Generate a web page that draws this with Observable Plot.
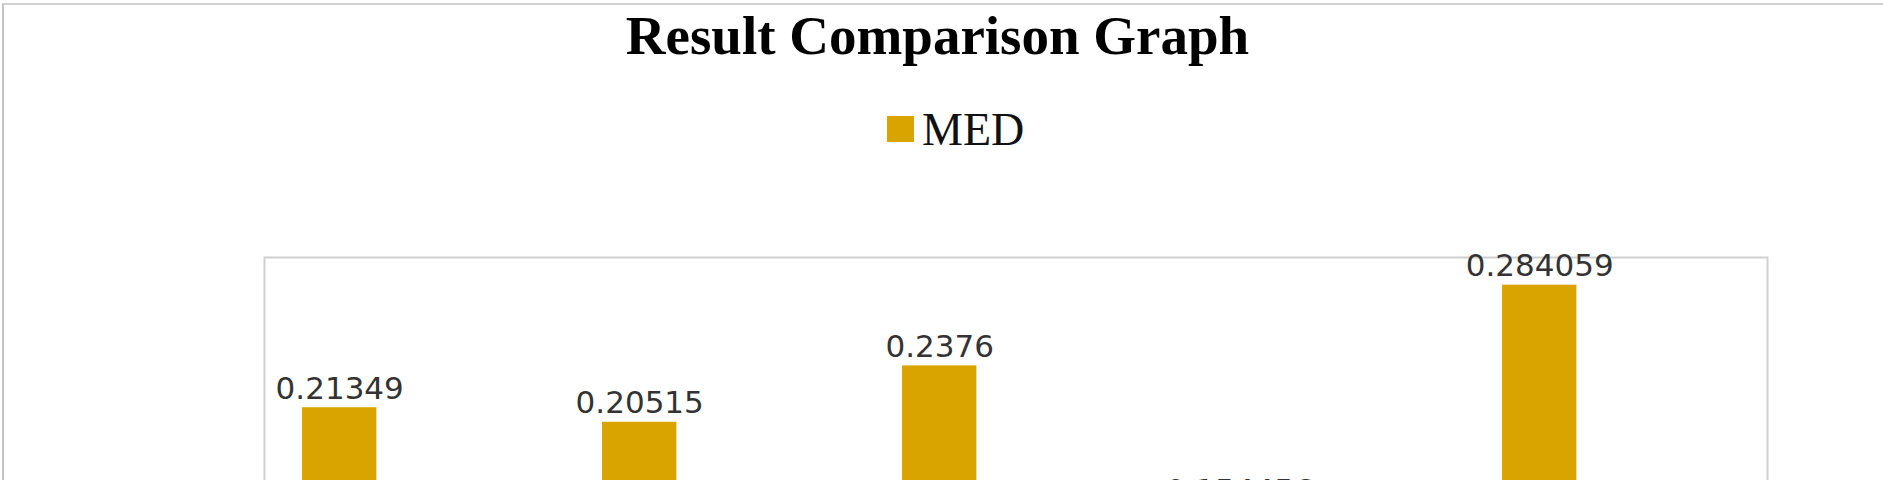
<!DOCTYPE html>
<html>
<head>
<meta charset="utf-8">
<script src="https://cdn.jsdelivr.net/npm/d3@7"></script>
<script src="https://cdn.jsdelivr.net/npm/@observablehq/plot@0.6"></script>
<style>
  html, body { margin: 0; padding: 0; background: #fff; overflow: hidden; }
  #page { position: relative; width: 1883px; height: 480px; overflow: hidden; background: #fff; }
  #border { position: absolute; left: 2px; top: 3px; width: 1900px; height: 600px;
            border-left: 2px solid #c4c4c4; border-top: 2px solid #d0d0d0; box-sizing: border-box; }
  #header { position: relative; height: 200px; }
  #title { position: absolute; left: 0; width: 1875px; top: 8px; text-align: center;
           font-family: "Liberation Serif", "Times New Roman", serif; font-weight: bold;
           font-size: 55px; line-height: 55px; color: #000; white-space: nowrap; }
  #legend { position: absolute; left: 887px; top: 107px; height: 46px; display: flex; align-items: center;
            font-family: "Liberation Serif", "Times New Roman", serif; font-size: 46px; line-height: 46px; color: #111; }
  #legend .sw { width: 27px; height: 26px; margin-right: 8px; margin-top: -2px; }
  #chart { position: absolute; left: 0; top: 200px; }
</style>
</head>
<body>
<div id="page">
  <div id="border"></div>
  <div id="header">
    <div id="title">Result Comparison Graph</div>
    <div id="legend"><div class="sw" id="sw"></div><span id="legendLabel"></span></div>
  </div>
  <div id="chart"></div>
</div>
<script>
const categories = ["Method 1", "Method 2", "Method 3", "Method 4", "Method 5"];
const medValues = [0.21349, 0.20515, 0.2376, 0.154456, 0.284059];
const valueLabels = ["0.21349", "0.20515", "0.2376", "0.154456", "0.284059"];
const seriesName = "MED";
const barColor = "#d9a400";

const data = categories.map((c, i) => ({category: c, value: medValues[i], label: valueLabels[i]}));

document.getElementById("sw").style.background = barColor;
document.getElementById("legendLabel").textContent = seriesName;

const bandWidth = (1767 - 264) / categories.length;
const insetL = 36;
const insetR = bandWidth - 111;
const labelDx = (insetL + (bandWidth - insetR)) / 2 - bandWidth / 2;

const chart = Plot.plot({
  width: 1883,
  height: 600,
  marginLeft: 264,
  marginRight: 116,
  marginTop: 57,
  marginBottom: 22,
  x: {domain: categories, padding: 0, axis: null},
  y: {domain: [0, 0.3], axis: null},
  style: {background: "transparent"},
  marks: [
    Plot.frame({stroke: "#d0d0d0", strokeWidth: 2}),
    Plot.barY(data, {x: "category", y: "value", fill: barColor, insetLeft: insetL, insetRight: insetR}),
    Plot.text(data, {x: "category", y: "value", text: "label", dx: labelDx, dy: -9,
      lineAnchor: "bottom", textAnchor: "middle",
      fontFamily: "DejaVu Sans, Verdana, sans-serif", fontSize: 31, fill: "#333333"})
  ]
});
document.getElementById("chart").appendChild(chart);
</script>
</body>
</html>
